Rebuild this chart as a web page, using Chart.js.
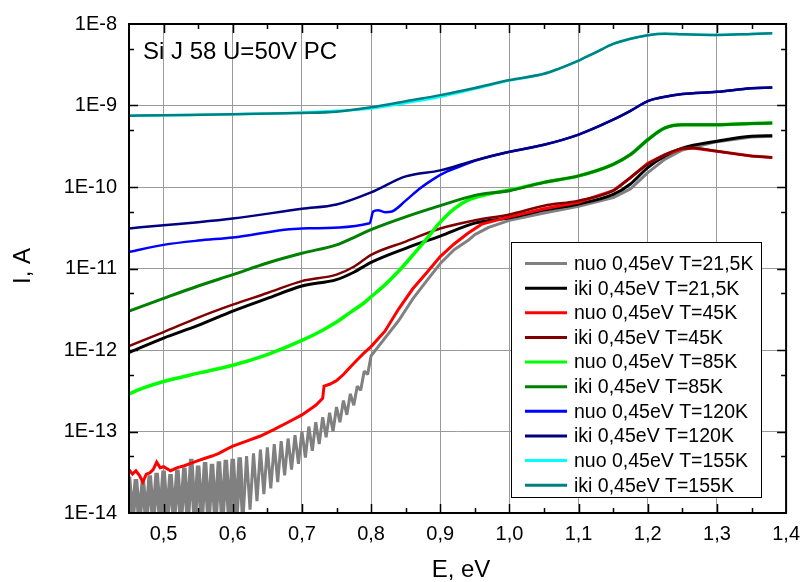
<!DOCTYPE html>
<html>
<head>
<meta charset="utf-8">
<script src="https://cdn.jsdelivr.net/npm/chart.js@4/dist/chart.umd.min.js"></script>
<style>
body{margin:0;background:#fff;}
</style>
</head>
<body>
<canvas id="pc" width="809" height="582"></canvas>
<script>
var xTicks = [0.5, 0.6, 0.7, 0.8, 0.9, 1.0, 1.1, 1.2, 1.3, 1.4];
var yTicks = [1e-14, 1e-13, 1e-12, 1e-11, 1e-10, 1e-9, 1e-8];
var names = ['nuo 0,45eV T=21,5K', 'iki 0,45eV T=21,5K', 'nuo 0,45eV T=45K', 'iki 0,45eV T=45K',
  'nuo 0,45eV T=85K', 'iki 0,45eV T=85K', 'nuo 0,45eV T=120K', 'iki 0,45eV T=120K',
  'nuo 0,45eV T=155K', 'iki 0,45eV T=155K'];
var colors = ['#808080', '#000000', '#ff0000', '#800000', '#00ff00', '#008000', '#0000ff', '#000080', '#00ffff', '#008080'];

// [E (eV), I (A)]
var nuo21 = [[0.45,2.8e-14],[0.455,8e-15],[0.46,2.6e-14],[0.465,8e-15],[0.47,2.5e-14],[0.475,8e-15],[0.48,2.9e-14],[0.485,8e-15],
  [0.49,3.1e-14],[0.495,8e-15],[0.50,3.3e-14],[0.505,8e-15],[0.51,3.0e-14],[0.515,8e-15],[0.52,3.4e-14],[0.525,8e-15],
  [0.53,3.6e-14],[0.535,8e-15],[0.54,4.6e-14],[0.545,8e-15],[0.55,3.8e-14],[0.555,8e-15],[0.56,4.2e-14],[0.565,8e-15],
  [0.57,4.0e-14],[0.575,8e-15],[0.58,4.3e-14],[0.585,8e-15],[0.59,4.5e-14],[0.595,8e-15],[0.60,4.6e-14],[0.605,8e-15],
  [0.61,4.8e-14],[0.615,9e-15],[0.62,5.0e-14],[0.625,1.1e-14],[0.63,5.4e-14],[0.635,1.4e-14],[0.64,6.0e-14],[0.645,1.7e-14],
  [0.65,6.4e-14],[0.655,2.0e-14],[0.66,7.0e-14],[0.665,2.4e-14],[0.67,7.6e-14],[0.675,2.9e-14],[0.68,8.2e-14],[0.685,3.4e-14],
  [0.69,9.0e-14],[0.695,4.0e-14],[0.70,1.0e-13],[0.705,4.8e-14],[0.71,1.15e-13],[0.715,5.8e-14],[0.72,1.3e-13],[0.725,7.0e-14],
  [0.73,1.5e-13],[0.735,8.5e-14],[0.74,1.7e-13],[0.745,1.0e-13],[0.75,2.0e-13],[0.755,1.3e-13],[0.76,2.4e-13],[0.765,1.6e-13],
  [0.77,2.9e-13],[0.775,2.1e-13],[0.78,3.6e-13],[0.785,3.2e-13],[0.79,5.5e-13],[0.795,5.0e-13],[0.80,8.5e-13],
  [0.82,1.4e-12],[0.84,2.3e-12],[0.86,4.2e-12],[0.88,7.0e-12],[0.90,1.15e-11],[0.92,1.7e-11],[0.94,2.2e-11],[0.95,2.6e-11],
  [0.97,3.2e-11],[1.0,3.9e-11],[1.05,4.8e-11],[1.1,5.8e-11],[1.15,7.4e-11],[1.175,9.5e-11],[1.2,1.5e-10],[1.225,2.2e-10],
  [1.25,2.85e-10],[1.3,3.6e-10],[1.35,4.1e-10],[1.38,4.2e-10]];
var iki21 = [[0.45,9.3e-13],[0.50,1.4e-12],[0.55,2.0e-12],[0.60,3.0e-12],[0.65,4.3e-12],[0.70,6.1e-12],[0.75,7.3e-12],
  [0.775,9.0e-12],[0.80,1.19e-11],[0.85,1.77e-11],[0.90,2.5e-11],[0.95,3.6e-11],[1.0,4.2e-11],[1.05,5.2e-11],[1.1,6.2e-11],
  [1.15,8.1e-11],[1.175,1.09e-10],[1.2,1.73e-10],[1.225,2.4e-10],[1.25,3.0e-10],[1.3,3.65e-10],[1.35,4.2e-10],[1.38,4.25e-10]];
var nuo45 = [[0.45,3.4e-14],[0.455,3.0e-14],[0.46,3.3e-14],[0.465,2.9e-14],[0.47,2.4e-14],[0.475,3.0e-14],[0.48,3.1e-14],
  [0.485,3.4e-14],[0.49,4.2e-14],[0.495,3.6e-14],[0.50,3.7e-14],[0.51,3.3e-14],[0.52,3.6e-14],[0.53,3.8e-14],[0.54,4.1e-14],
  [0.55,4.4e-14],[0.56,4.7e-14],[0.57,5.0e-14],[0.58,5.4e-14],[0.59,6.0e-14],[0.60,6.6e-14],[0.62,7.6e-14],[0.64,8.8e-14],
  [0.66,1.06e-13],[0.68,1.3e-13],[0.70,1.6e-13],[0.72,2.1e-13],[0.73,2.55e-13],[0.732,3.6e-13],[0.74,3.8e-13],[0.75,4.2e-13],
  [0.76,5.0e-13],[0.77,6.2e-13],[0.78,7.6e-13],[0.79,9.2e-13],[0.80,1.1e-12],[0.82,1.7e-12],[0.84,3.2e-12],[0.86,5.6e-12],
  [0.88,8.8e-12],[0.90,1.4e-11],[0.92,2.0e-11],[0.94,2.7e-11],[0.96,3.5e-11],[1.0,4.3e-11],[1.05,5.4e-11],[1.1,6.5e-11],
  [1.15,9.0e-11],[1.175,1.3e-10],[1.2,1.95e-10],[1.225,2.5e-10],[1.25,2.95e-10],[1.265,3.0e-10],[1.3,2.75e-10],[1.35,2.4e-10],[1.38,2.3e-10]];
var iki45 = [[0.45,1.12e-12],[0.50,1.66e-12],[0.55,2.5e-12],[0.60,3.6e-12],[0.65,5.0e-12],[0.70,7.0e-12],[0.75,8.4e-12],
  [0.775,1.05e-11],[0.80,1.47e-11],[0.85,2.14e-11],[0.90,3.1e-11],[0.95,3.9e-11],[1.0,4.6e-11],[1.05,5.9e-11],[1.1,6.8e-11],
  [1.15,9.0e-11],[1.175,1.31e-10],[1.2,1.9e-10],[1.225,2.5e-10],[1.25,2.97e-10],[1.265,3.0e-10],[1.3,2.75e-10],[1.35,2.4e-10],[1.38,2.3e-10]];
var nuo85 = [[0.45,2.9e-13],[0.47,3.4e-13],[0.50,4.1e-13],[0.55,5.2e-13],[0.60,6.5e-13],[0.65,8.8e-13],[0.70,1.31e-12],
  [0.73,1.75e-12],[0.75,2.2e-12],[0.77,2.9e-12],[0.79,3.8e-12],[0.80,4.5e-12],[0.82,6.3e-12],[0.84,9.3e-12],[0.86,1.45e-11],
  [0.88,2.3e-11],[0.90,3.7e-11],[0.92,5.4e-11],[0.94,6.9e-11],[0.97,8.2e-11],[1.0,9.2e-11],[1.05,1.14e-10],[1.1,1.37e-10],
  [1.15,1.9e-10],[1.175,2.5e-10],[1.2,3.8e-10],[1.225,5.3e-10],[1.25,5.8e-10],[1.3,5.8e-10],[1.35,6.0e-10],[1.38,6.1e-10]];
var iki85 = [[0.45,3.0e-12],[0.50,4.3e-12],[0.55,6.1e-12],[0.60,8.4e-12],[0.65,1.17e-11],[0.70,1.54e-11],[0.75,1.95e-11],
  [0.775,2.4e-11],[0.80,3.0e-11],[0.85,4.3e-11],[0.90,5.9e-11],[0.95,7.9e-11],[1.0,9.0e-11],[1.05,1.14e-10],[1.1,1.37e-10],
  [1.15,1.9e-10],[1.175,2.5e-10],[1.2,3.8e-10],[1.225,5.3e-10],[1.25,5.8e-10],[1.3,5.8e-10],[1.35,6.0e-10],[1.38,6.1e-10]];
var nuo120 = [[0.45,1.6e-11],[0.50,1.95e-11],[0.55,2.2e-11],[0.60,2.4e-11],[0.70,3.1e-11],[0.798,3.6e-11],[0.803,5.0e-11],
  [0.81,5.2e-11],[0.82,4.9e-11],[0.83,5.0e-11],[0.85,6.8e-11],[0.87,9.5e-11],[0.89,1.25e-10],[0.91,1.55e-10],[0.94,1.95e-10],
  [0.95,2.1e-10],[1.0,2.7e-10],[1.05,3.3e-10],[1.1,4.4e-10],[1.15,6.7e-10],[1.175,8.6e-10],[1.2,1.13e-9],[1.225,1.28e-9],
  [1.25,1.38e-9],[1.3,1.47e-9],[1.35,1.63e-9],[1.38,1.66e-9]];
var iki120 = [[0.45,3.1e-11],[0.50,3.4e-11],[0.55,3.7e-11],[0.60,4.1e-11],[0.70,5.4e-11],[0.75,6.1e-11],[0.80,8.6e-11],
  [0.85,1.35e-10],[0.90,1.6e-10],[0.95,2.12e-10],[1.0,2.7e-10],[1.05,3.3e-10],[1.1,4.4e-10],[1.15,6.7e-10],[1.175,8.6e-10],
  [1.2,1.13e-9],[1.225,1.28e-9],[1.25,1.38e-9],[1.3,1.47e-9],[1.35,1.63e-9],[1.38,1.66e-9]];
var nuo155 = [[0.45,7.5e-10],[0.50,7.6e-10],[0.60,7.8e-10],[0.70,8.2e-10],[0.75,8.6e-10],[0.80,9.2e-10],[0.85,1.07e-9],
  [0.90,1.28e-9],[0.95,1.6e-9],[1.0,2.02e-9],[1.05,2.45e-9],[1.07,2.8e-9],[1.1,3.56e-9],[1.125,4.5e-9],[1.15,5.7e-9],
  [1.175,6.6e-9],[1.2,7.3e-9],[1.225,7.6e-9],[1.25,7.5e-9],[1.3,7.35e-9],[1.35,7.55e-9],[1.38,7.7e-9]];
var iki155 = [[0.45,7.5e-10],[0.50,7.6e-10],[0.60,7.8e-10],[0.70,8.1e-10],[0.75,8.4e-10],[0.80,9.5e-10],[0.85,1.13e-9],
  [0.90,1.34e-9],[0.95,1.64e-9],[1.0,2.05e-9],[1.05,2.45e-9],[1.07,2.8e-9],[1.1,3.56e-9],[1.125,4.5e-9],[1.15,5.7e-9],
  [1.175,6.6e-9],[1.2,7.3e-9],[1.225,7.6e-9],[1.25,7.5e-9],[1.3,7.35e-9],[1.35,7.55e-9],[1.38,7.7e-9]];

var series = [nuo21, iki21, nuo45, iki45, nuo85, iki85, nuo120, iki120, nuo155, iki155];
var widths = [3, 3, 3, 2.5, 3.5, 3, 2.5, 2.5, 2.5, 2.5];
var noisy = [true, false, true, false, false, false, false, false, false, false];
var FONT = '"Liberation Sans", Arial, sans-serif';

var frame = {
  id: 'frame',
  afterDraw: function(chart) {
    var c = chart.ctx, a = chart.chartArea, sx = chart.scales.x, sy = chart.scales.y;
    c.save();
    c.strokeStyle = '#000';
    c.lineWidth = 1.5;
    c.beginPath();
    for (var v = 0.5; v < 1.39; v += 0.05) {
      var px = Math.round(sx.getPixelForValue(v)) + 0.5;
      var major = Math.abs(v * 10 - Math.round(v * 10)) < 0.01;
      var len = major ? 9 : 5;
      c.moveTo(px, a.bottom); c.lineTo(px, a.bottom - len);
      c.moveTo(px, a.top); c.lineTo(px, a.top + len);
    }
    for (var e = -14; e <= -9; e++) {
      [1, 5].forEach(function(m) {
        var val = m * Math.pow(10, e);
        if (val <= 1e-14 || val >= 1e-8) return;
        var py = Math.round(sy.getPixelForValue(val)) + 0.5;
        var len = m === 1 ? 9 : 5;
        c.moveTo(a.left, py); c.lineTo(a.left + len, py);
        c.moveTo(a.right, py); c.lineTo(a.right - len, py);
      });
    }
    c.stroke();
    c.lineWidth = 2;
    c.strokeRect(a.left, a.top, a.right - a.left, a.bottom - a.top);

    c.fillStyle = '#000';
    c.font = '24px ' + FONT;
    c.textAlign = 'left';
    c.textBaseline = 'alphabetic';
    c.fillText('Si J 58 U=50V PC', 143, 59);
    c.textAlign = 'center';
    c.fillText('E, eV', 461, 577);
    c.save();
    c.translate(30, 266);
    c.rotate(-Math.PI / 2);
    c.fillText('I, A', 0, 0);
    c.restore();

    // legend box
    c.fillStyle = '#fff';
    c.fillRect(511, 242, 250, 255);
    c.lineWidth = 1;
    c.strokeStyle = '#000';
    c.strokeRect(511.5, 242.5, 250, 255);
    c.font = '19.5px ' + FONT;
    c.textAlign = 'left';
    c.textBaseline = 'middle';
    for (var i = 0; i < names.length; i++) {
      var ly = 263.5 + i * 24.63;
      c.strokeStyle = colors[i];
      c.lineWidth = 3;
      c.beginPath();
      c.moveTo(525, ly); c.lineTo(567, ly);
      c.stroke();
      c.fillStyle = '#000';
      c.fillText(names[i], 574, ly + 1);
    }
    c.restore();
  }
};

new Chart(document.getElementById('pc').getContext('2d'), {
  type: 'line',
  data: {
    datasets: series.map(function(s, i) {
      var ds = {
        label: names[i],
        data: s.map(function(p) { return {x: p[0], y: p[1]}; }),
        borderColor: colors[i],
        backgroundColor: colors[i],
        borderWidth: widths[i],
        pointRadius: 0,
        tension: noisy[i] ? 0 : 0.4,
        cubicInterpolationMode: noisy[i] ? 'default' : 'monotone',
        order: -i
      };
      if (i === 0) {
        // heavier strokes where the 21,5K scan sits in the noise floor
        ds.borderJoinStyle = 'bevel';
        ds.segment = {
          borderWidth: function(ctx) { return ctx.p0.parsed.x < 0.615 ? 4.5 : 3; }
        };
      }
      return ds;
    })
  },
  options: {
    responsive: false,
    animation: false,
    layout: {padding: {top: 18, right: 16, left: 0, bottom: 0}},
    plugins: {legend: {display: false}, tooltip: {enabled: false}},
    scales: {
      x: {
        type: 'linear',
        min: 0.45,
        max: 1.4,
        afterBuildTicks: function(s) { s.ticks = xTicks.map(function(v) { return {value: v}; }); },
        afterFit: function(s) { s.height = 69; },
        grid: {color: '#9a9a9a', lineWidth: 1, drawTicks: false},
        border: {display: false},
        ticks: {
          padding: 9, color: '#000', autoSkip: false, maxRotation: 0,
          font: {size: 20, family: FONT},
          callback: function(v) { return v.toFixed(1).replace('.', ','); }
        }
      },
      y: {
        type: 'logarithmic',
        min: 1e-14,
        max: 1e-8,
        afterBuildTicks: function(s) { s.ticks = yTicks.map(function(v) { return {value: v}; }); },
        afterFit: function(s) { s.width = 129; },
        grid: {color: '#9a9a9a', lineWidth: 1, drawTicks: false},
        border: {display: false},
        ticks: {
          padding: 12, color: '#000', autoSkip: false,
          font: {size: 20, family: FONT},
          callback: function(v) { return '1E' + Math.round(Math.log10(v)); }
        }
      }
    }
  },
  plugins: [frame]
});
</script>
</body>
</html>
